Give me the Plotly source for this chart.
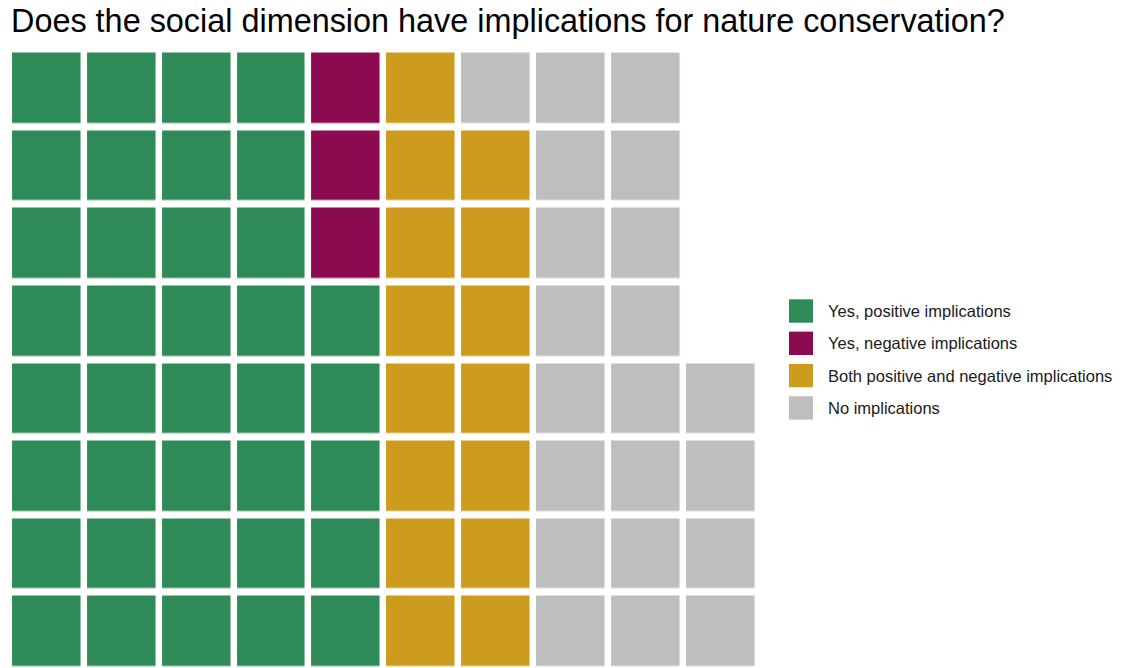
import numpy as np
import plotly.graph_objects as go

# Survey answers: "Does the social dimension have implications for nature conservation?"
categories = [
    "Yes, positive implications",
    "Yes, negative implications",
    "Both positive and negative implications",
    "No implications",
]
counts = [37, 3, 15, 21]
colors = ["#2E8B57", "#8B0A50", "#CD9B1D", "#BEBEBE"]
n_rows = 8
title_text = "Does the social dimension have implications for nature conservation?"

W, H = 1123, 668

# Waffle grid: fill column by column, bottom to top
total = sum(counts)
n_cols = int(np.ceil(total / n_rows))
z = np.full((n_rows, n_cols), np.nan)
codes = np.repeat(np.arange(len(categories)), counts)
for i, code in enumerate(codes):
    col = i // n_rows
    row = i % n_rows
    z[row, col] = code

# stepped colorscale so each category code gets a flat colour
k = len(categories)
colorscale = []
for j, c in enumerate(colors):
    colorscale.append([j / k, c])
    colorscale.append([(j + 1) / k, c])

fig = go.Figure(
    go.Heatmap(
        z=z,
        x=np.arange(1, n_cols + 1),
        y=np.arange(1, n_rows + 1),
        zmin=-0.5,
        zmax=k - 0.5,
        colorscale=colorscale,
        showscale=False,
        xgap=6.5,
        ygap=7.5,
        hoverinfo="skip",
    )
)

# Legend drawn by hand so the colour keys can be large squares
key_x0, key_x1 = 789, 813
text_x = 826
first_y, step_y, half = 311, 32.3, 11.7
shapes, annotations = [], []
for j, (name, c) in enumerate(zip(categories, colors)):
    yc = first_y + j * step_y
    shapes.append(dict(
        type="rect", xref="paper", yref="paper",
        x0=key_x0 / W, x1=key_x1 / W,
        y0=1 - (yc + half) / H, y1=1 - (yc - half) / H,
        fillcolor=c, line=dict(width=0),
    ))
    annotations.append(dict(
        text=name, xref="paper", yref="paper",
        x=text_x / W, y=1 - yc / H, xanchor="left", yanchor="middle",
        showarrow=False, font=dict(family="Liberation Sans, Arial", size=16.5, color="#1a1a1a"),
    ))

annotations.append(dict(
    text=title_text, xref="paper", yref="paper",
    x=9 / W, y=1 - 1 / H, xanchor="left", yanchor="top",
    showarrow=False, font=dict(family="Liberation Sans, Arial", size=32.4, color="#000000"),
))

fig.update_layout(
    width=W, height=H,
    margin=dict(l=0, r=0, t=0, b=0),
    paper_bgcolor="white", plot_bgcolor="white",
    xaxis=dict(range=[0.379, 15.38], domain=[0, 1], visible=False, fixedrange=True),
    yaxis=dict(range=[0.532, 9.137], domain=[0, 1], visible=False, fixedrange=True),
    shapes=shapes,
    annotations=annotations,
    showlegend=False,
)

fig.write_html("out.html")
